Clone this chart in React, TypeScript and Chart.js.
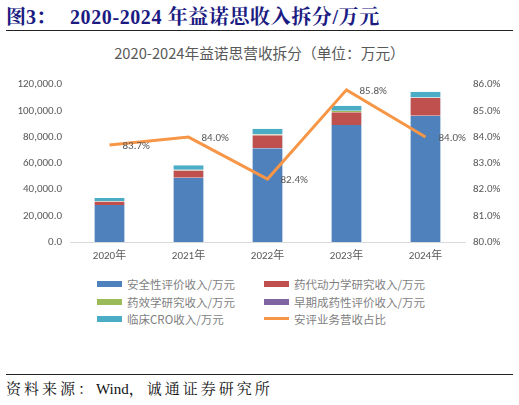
import React, { useEffect, useRef } from "react";
import { Chart, registerables } from "chart.js";

Chart.register(...registerables);

const categories = ["2020年", "2021年", "2022年", "2023年", "2024年"];
const safetyRevenue = [28150, 49000, 71500, 89200, 96300];
const pkRevenue = [2750, 5500, 9900, 9700, 13500];
const efficacyRevenue = [150, 400, 500, 900, 200];
const earlyRevenue = [100, 200, 300, 300, 100];
const croRevenue = [2450, 3400, 4200, 3700, 4500];
const safetyShare = [83.7, 84.0, 82.4, 85.8, 84.0];
const leftTicks = [0, 20000, 40000, 60000, 80000, 100000, 120000];
const rightTicks = [80, 81, 82, 83, 84, 85, 86];

const barNames = [
  "安全性评价收入/万元",
  "药代动力学研究收入/万元",
  "药效学研究收入/万元",
  "早期成药性评价收入/万元",
  "临床CRO收入/万元",
];
const lineName = "安评业务营收占比";
const barColors = ["#4F81BD", "#C0504D", "#9BBB59", "#8064A2", "#4BACC6"];
const lineColor = "#F79646";

const textGray = "#595959";
const tickFont = { family: "Calibri, Carlito, 'Liberation Sans', 'Noto Sans CJK SC', sans-serif", size: 11 };

const labelPlugin = {
  id: "lineLabels",
  afterDatasetsDraw(chart: any) {
    const meta = chart.getDatasetMeta(5);
    const ctx = chart.ctx;
    ctx.save();
    ctx.fillStyle = textGray;
    ctx.font = `11px ${tickFont.family}`;
    ctx.textAlign = "left";
    ctx.textBaseline = "middle";
    meta.data.forEach((pt: any, i: number) => {
      ctx.fillText(safetyShare[i].toFixed(1) + "%", pt.x + 13, pt.y + 1);
    });
    ctx.restore();
  },
};

function ChartBox() {
  const ref = useRef<HTMLCanvasElement | null>(null);
  useEffect(() => {
    if (!ref.current) return;
    const series = [safetyRevenue, pkRevenue, efficacyRevenue, earlyRevenue, croRevenue];
    const chart = new Chart(ref.current, {
      type: "bar",
      data: {
        labels: categories,
        datasets: [
          ...series.map((d, i) => ({
            type: "bar" as const,
            label: barNames[i],
            data: d,
            backgroundColor: barColors[i],
            borderColor: "rgba(220,230,242,0.7)",
            borderWidth: { left: 1, right: 1, top: 0, bottom: 0 },
            stack: "s",
            yAxisID: "y",
            categoryPercentage: 1,
            barPercentage: 0.4,
            order: 2,
          })),
          {
            type: "line" as const,
            label: lineName,
            data: safetyShare,
            borderColor: lineColor,
            borderWidth: 3,
            pointRadius: 0,
            tension: 0,
            yAxisID: "y1",
            order: 0,
          },
        ],
      } as any,
      options: {
        animation: false,
        responsive: false,
        maintainAspectRatio: false,
        layout: { padding: { top: 11, left: 0, right: 0, bottom: 0 } },
        plugins: { legend: { display: false }, tooltip: { enabled: false }, title: { display: false } },
        scales: {
          x: {
            stacked: true,
            grid: { display: false, drawTicks: false },
            border: { display: true, color: "#D9D9D9", width: 1 },
            ticks: { color: textGray, font: tickFont, padding: 8 },
            afterFit: (s: any) => { s.height = 23; },
          },
          y: {
            stacked: true,
            position: "left",
            min: 0,
            max: 120000,
            afterBuildTicks: (s: any) => { s.ticks = leftTicks.map((v) => ({ value: v })); },
            grid: { display: false, drawTicks: false },
            border: { display: false },
            ticks: {
              color: textGray,
              font: tickFont,
              padding: 8,
              callback: (v: any) => Number(v).toLocaleString("en-US", { minimumFractionDigits: 1, maximumFractionDigits: 1 }),
            },
            afterFit: (s: any) => { s.width = 70; },
          },
          y1: {
            position: "right",
            min: 80,
            max: 86,
            afterBuildTicks: (s: any) => { s.ticks = rightTicks.map((v) => ({ value: v })); },
            grid: { display: false, drawTicks: false },
            border: { display: false },
            ticks: {
              color: textGray,
              font: tickFont,
              padding: 8,
              callback: (v: any) => Number(v).toFixed(1) + "%",
            },
            afterFit: (s: any) => { s.width = 54; },
          },
        },
      } as any,
      plugins: [labelPlugin],
    });
    return () => chart.destroy();
  }, []);
  return (
    <canvas
      ref={ref}
      width={519}
      height={195}
      style={{ position: "absolute", left: 0, top: 70, width: 519, height: 195 }}
    />
  );
}

const legendItems = [
  { name: barNames[0], color: barColors[0], line: false },
  { name: barNames[1], color: barColors[1], line: false },
  { name: barNames[2], color: barColors[2], line: false },
  { name: barNames[3], color: barColors[3], line: false },
  { name: barNames[4], color: barColors[4], line: false },
  { name: lineName, color: lineColor, line: true },
];

export default function App() {
  const cjk = "'Noto Sans CJK SC', 'Noto Sans', sans-serif";
  const serif = "'Liberation Serif', 'Noto Serif CJK SC', 'Noto Sans CJK SC', serif";
  return (
    <div style={{ position: "absolute", left: 0, top: 0, width: 519, height: 405, background: "#fff", overflow: "hidden" }}>
      <div
        style={{
          position: "absolute",
          left: 6,
          top: 4,
          fontFamily: serif,
          fontWeight: "bold",
          fontSize: 20,
          color: "#1B1B82",
          whiteSpace: "nowrap",
          lineHeight: "26px",
        }}
      >
        <span>图3：</span>
        <span style={{ position: "absolute", left: 64, letterSpacing: 0.6 }}>2020-2024 年益诺思收入拆分/万元</span>
      </div>
      <div style={{ position: "absolute", left: 6, top: 30, width: 507, height: 1, background: "#222" }} />
      <div
        style={{
          position: "absolute",
          left: 0,
          width: 519,
          top: 43,
          textAlign: "center",
          fontFamily: cjk,
          fontSize: 14.7,
          color: "#595959",
          lineHeight: "20px",
        }}
      >
        2020-2024年益诺思营收拆分（单位：万元）
      </div>
      <ChartBox />
      {legendItems.map((it, i) => {
        const col = i % 2;
        const row = Math.floor(i / 2);
        const left = col === 0 ? 97 : 264;
        const top = 276 + row * 17.7;
        return (
          <div key={i} style={{ position: "absolute", left, top, height: 16, whiteSpace: "nowrap" }}>
            <div
              style={{
                position: "absolute",
                left: 0,
                top: it.line ? 6 : 5,
                width: 25,
                height: it.line ? 3 : 6,
                background: it.color,
              }}
            />
            <div
              style={{
                position: "absolute",
                left: 30,
                top: 0,
                fontFamily: cjk,
                fontSize: 11.5,
                lineHeight: "16px",
                color: "#7F7F7F",
              }}
            >
              {it.name}
            </div>
          </div>
        );
      })}
      <div style={{ position: "absolute", left: 6, top: 374, width: 507, height: 1, background: "#222" }} />
      <div
        style={{
          position: "absolute",
          left: 6,
          top: 379,
          fontFamily: serif,
          fontSize: 15,
          color: "#111",
          lineHeight: "20px",
          whiteSpace: "nowrap",
        }}
      >
        <span style={{ letterSpacing: 3 }}>资料来源：</span>
        <span>Wind</span>
        <span style={{ letterSpacing: 3 }}>，诚通证券研究所</span>
      </div>
    </div>
  );
}
